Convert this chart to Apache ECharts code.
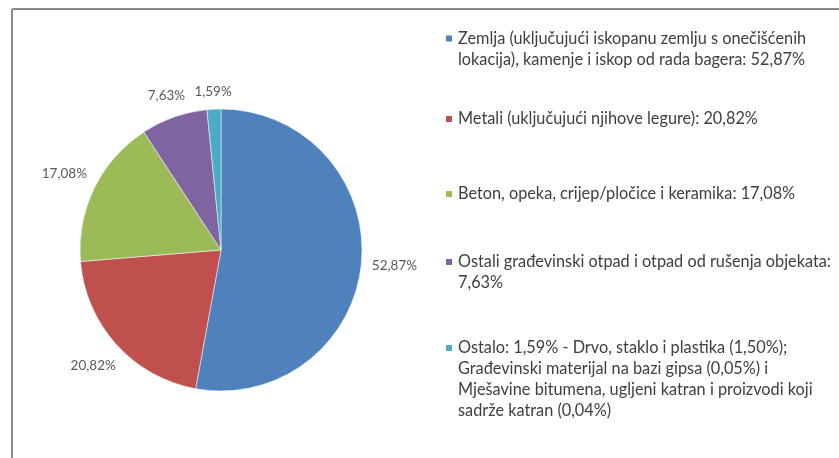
<!DOCTYPE html>
<html>
<head>
<meta charset="utf-8">
<script src="https://cdn.jsdelivr.net/npm/echarts@6/dist/echarts.min.js"></script>
<style>
html,body{margin:0;padding:0;background:#fff;}
#c{width:839px;height:458px;}
</style>
</head>
<body>
<div id="c"></div>
<script>
var categories = [
  'Zemlja (uključujući iskopanu zemlju s onečišćenih\nlokacija), kamenje i iskop od rada bagera: 52,87%',
  'Metali (uključujući njihove legure): 20,82%',
  'Beton, opeka, crijep/pločice i keramika: 17,08%',
  'Ostali građevinski otpad i otpad od rušenja objekata:\n7,63%',
  'Ostalo: 1,59% - Drvo, staklo i plastika (1,50%);\nGrađevinski materijal na bazi gipsa (0,05%) i\nMješavine bitumena, ugljeni katran i proizvodi koji\nsadrže katran (0,04%)'
];
var values = [52.87, 20.82, 17.08, 7.63, 1.59];
var colors = ['#4F81BD', '#C0504D', '#9BBB59', '#8064A2', '#4BACC6'];

var CX = 221, CY = 250, R = 141, GAP = 10;
var legendCenters = [38.5, 119, 194, 262, 348];
var LH = 21;

var chart = echarts.init(document.getElementById('c'));

var legends = categories.map(function (name, i) {
  var n = name.split('\n').length;
  var pre = new Array(n).join('\n');
  return {
    data: [name],
    orient: 'vertical',
    left: 444,
    top: legendCenters[i] - (2 * n - 1) * LH / 2,
    padding: 0,
    itemGap: 0,
    itemWidth: 8,
    itemHeight: 8,
    icon: 'rect',
    selectedMode: false,
    formatter: function (nm) { return pre + nm; },
    textStyle: {
      fontFamily: 'Lato',
      fontSize: 16.3,
      color: '#404040',
      lineHeight: LH
    }
  };
});

chart.setOption({
  animation: false,
  backgroundColor: '#fff',
  color: colors,
  legend: legends,
  graphic: [
    { type: 'line', shape: { x1: 12, y1: 9, x2: 839, y2: 9 }, style: { stroke: '#8a8a8a', lineWidth: 2 } },
    { type: 'line', shape: { x1: 12, y1: 9, x2: 12, y2: 458 }, style: { stroke: '#8a8a8a', lineWidth: 2 } }
  ],
  series: [{
    type: 'pie',
    center: [CX, CY],
    radius: R,
    startAngle: 90,
    clockwise: true,
    silent: true,
    itemStyle: { borderColor: '#ffffff', borderWidth: 0.5 },
    data: categories.map(function (name, i) { return { name: name, value: values[i] }; }),
    label: {
      show: true,
      position: 'outside',
      fontFamily: 'Lato',
      fontSize: 13.5,
      color: '#595959',
      formatter: function (p) { return p.value.toFixed(2).replace('.', ',') + '%'; }
    },
    labelLine: { show: true, length: 4, length2: 0, lineStyle: { opacity: 0 } },
    labelLayout: function (p) {
      var pts = p.labelLinePoints;
      if (!pts) return {};
      var x1 = pts[0][0], y1 = pts[0][1];
      var dx = x1 - CX, dy = y1 - CY;
      var len = Math.sqrt(dx * dx + dy * dy) || 1;
      dx /= len; dy /= len;
      var w = p.labelRect.width, h = p.labelRect.height;
      var d = GAP + Math.abs(dx) * w / 2 + Math.abs(dy) * h / 2;
      return { x: x1 + dx * d, y: y1 + dy * d, align: 'center', verticalAlign: 'middle' };
    }
  }]
});
</script>
</body>
</html>
